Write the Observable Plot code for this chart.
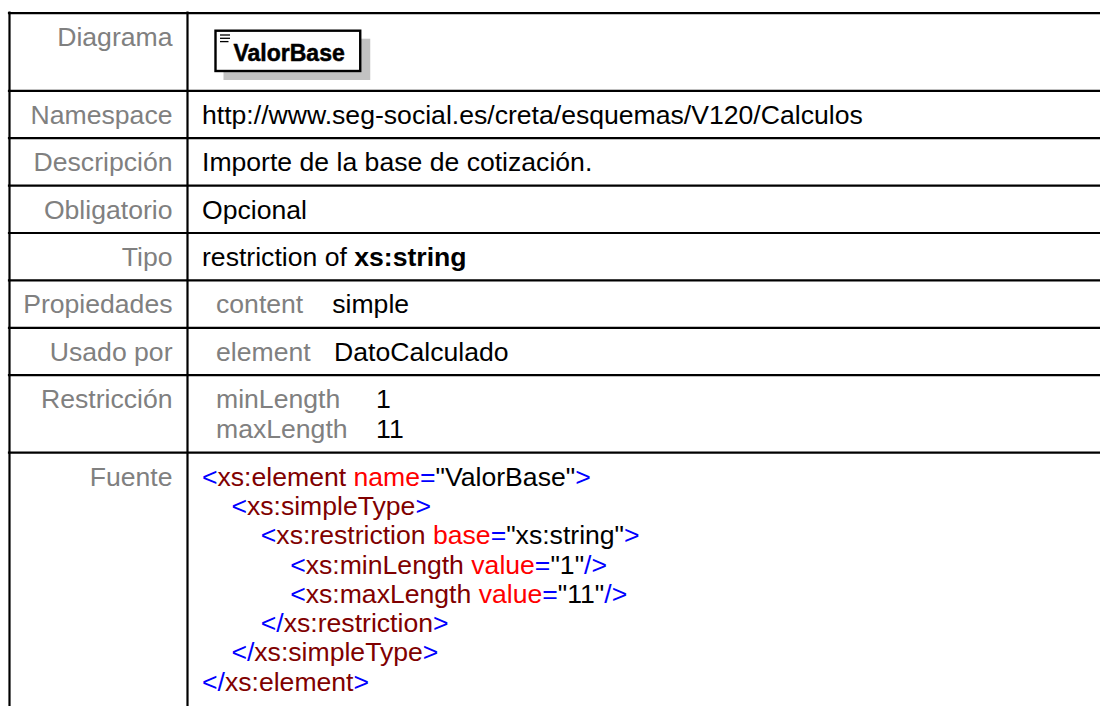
<!DOCTYPE html>
<html><head><meta charset="utf-8">
<script src="https://cdn.jsdelivr.net/npm/d3@7"></script>
<script src="https://cdn.jsdelivr.net/npm/@observablehq/plot@0.6"></script>
<style>html,body{margin:0;padding:0;background:#fff;} #chart svg{display:block}</style>
</head><body><div id="chart"></div>
<script>
// ---- content ----
const rowLabels = ["Diagrama","Namespace","Descripción","Obligatorio","Tipo","Propiedades","Usado por","Restricción","Fuente"];
const elementName = "ValorBase";
const namespaceValue = "http://www.seg-social.es/creta/esquemas/V120/Calculos";
const descripcionValue = "Importe de la base de cotización.";
const obligatorioValue = "Opcional";
const tipoPrefix = "restriction of";
const tipoBase = "xs:string";
const propiedades = [["content","simple"]];
const usadoPor = [["element","DatoCalculado"]];
const restriccion = [["minLength","1"],["maxLength","11"]];
// XML source: [text, kind] kinds: p=punctuation, e=element, a=attribute, v=value
const sourceIndent = [0,1,2,3,3,2,1,0];
const sourceTokens = [
  [["<","p"],["xs:element","e"],[" name","a"],["=","p"],["\"ValorBase\"","v"],[">","p"]],
  [["<","p"],["xs:simpleType","e"],[">","p"]],
  [["<","p"],["xs:restriction","e"],[" base","a"],["=","p"],["\"xs:string\"","v"],[">","p"]],
  [["<","p"],["xs:minLength","e"],[" value","a"],["=","p"],["\"1\"","v"],["/>","p"]],
  [["<","p"],["xs:maxLength","e"],[" value","a"],["=","p"],["\"11\"","v"],["/>","p"]],
  [["</","p"],["xs:restriction","e"],[">","p"]],
  [["</","p"],["xs:simpleType","e"],[">","p"]],
  [["</","p"],["xs:element","e"],[">","p"]]
];
const tokenColors = {p:"#0000ff", e:"#800000", a:"#ff0000", v:"#000000"};

// ---- layout / style ----
const W = 1100, H = 706, FS = 26.6;
const FONT = '"Liberation Sans", Arial, sans-serif';
const LABEL_COLOR = "#808080";
const L = {tableLeft:9, tableTop:12.7, divider:187, labelRight:172, valueX:201.5, subLabelX:215.5,
           rowH:47.4, lineStep:30, srcStep:29.3, baseOff:33, diagramH:77.6, indent:29.4, border:2.2};
const subGaps = {prop:29, uso:23.5, restr:28.5};

const ctx = document.createElement("canvas").getContext("2d");
function tw(s, weight = "normal", size = FS) { ctx.font = `${weight} ${size}px "Liberation Sans"`; return ctx.measureText(s).width; }

const lineCounts = rowLabels.map((_, i) => i === 7 ? restriccion.length : i === 8 ? sourceTokens.length : 1);
const heights = lineCounts.map((n, i) => i === 0 ? L.diagramH : L.rowH + (n - 1) * (i === 8 ? L.srcStep : L.lineStep));
const tops = [];
heights.reduce((acc, h) => { tops.push(acc); return acc + h; }, L.tableTop);
const base = i => tops[i] + L.baseOff;

// texts
const labelTexts = rowLabels.map((label, i) => ({x: L.labelRight, y: base(i), text: label}));
const normalTexts = [
  {x: L.valueX, y: base(1), text: namespaceValue, fill: "#000"},
  {x: L.valueX, y: base(2), text: descripcionValue, fill: "#000"},
  {x: L.valueX, y: base(3), text: obligatorioValue, fill: "#000"},
  {x: L.valueX, y: base(4), text: tipoPrefix, fill: "#000"}
];
const boldTexts = [{x: L.valueX + tw(tipoPrefix + " "), y: base(4), text: tipoBase}];
function addSub(pairs, row, gap) {
  const colX = L.subLabelX + d3.max(pairs, p => tw(p[0])) + gap;
  pairs.forEach((p, k) => {
    const y = base(row) + k * L.lineStep;
    normalTexts.push({x: L.subLabelX, y, text: p[0], fill: LABEL_COLOR});
    normalTexts.push({x: colX, y, text: p[1], fill: "#000"});
  });
}
addSub(propiedades, 5, subGaps.prop);
addSub(usadoPor, 6, subGaps.uso);
addSub(restriccion, 7, subGaps.restr);
sourceTokens.forEach((tokens, j) => {
  let x = L.valueX + sourceIndent[j] * L.indent;
  const y = base(8) + j * L.srcStep;
  tokens.forEach(([t, kind]) => {
    if (t.startsWith(" ")) { x += tw(" "); t = t.trimStart(); }
    normalTexts.push({x, y, text: t, fill: tokenColors[kind]});
    x += tw(t);
  });
});

// diagram box
const DFS = 23;
const boxX1 = L.divider + 28.5, textX = boxX1 + 17.5;
const diagBox = {x1: boxX1, x2: textX + tw(elementName, "bold", DFS) + 16, y1: tops[0] + 18, y2: tops[0] + 58.3};
const shadow = {x1: diagBox.x1 + 8, x2: diagBox.x2 + 10, y1: diagBox.y1 + 8, y2: diagBox.y2 + 9};
const iconLines = [0, 1, 2].map(k => ({y: diagBox.y1 + 3.8 + k * 3.3, x1: diagBox.x1 + 4.5, x2: diagBox.x1 + 14.5 - (k === 2 ? 1.5 : 0)}));

const hb = L.border / 2;
const chart = Plot.plot({
  width: W, height: H, margin: 0,
  x: {type: "linear", domain: [0, W], range: [0, W], axis: null},
  y: {type: "linear", domain: [0, H], range: [0, H], axis: null},
  color: {type: "identity"},
  style: {fontFamily: FONT, background: "#fff", color: "#000"},
  marks: [
    Plot.rect([shadow], {x1: "x1", x2: "x2", y1: "y1", y2: "y2", fill: "#c2c2c2"}),
    Plot.rect([diagBox], {x1: "x1", x2: "x2", y1: "y1", y2: "y2", fill: "#fff", stroke: "#000", strokeWidth: 2.4}),
    Plot.ruleY(iconLines, {y: "y", x1: "x1", x2: "x2", stroke: "#000", strokeWidth: 1.3}),
    Plot.text([diagBox], {x: () => textX, y: d => d.y1 + 29.5, text: () => elementName, fontWeight: "bold", fontSize: DFS, textAnchor: "start", lineAnchor: "bottom", fill: "#000", stroke: "#000", strokeWidth: 0.5}),
    Plot.ruleY(tops, {x1: L.tableLeft - hb, x2: W, stroke: "#000", strokeWidth: L.border}),
    Plot.ruleX([L.tableLeft, L.divider], {y1: L.tableTop - hb, y2: H, stroke: "#000", strokeWidth: L.border}),
    Plot.text(labelTexts, {x: "x", y: "y", text: "text", fontSize: FS, textAnchor: "end", lineAnchor: "bottom", fill: LABEL_COLOR}),
    Plot.text(normalTexts, {x: "x", y: "y", text: "text", fill: "fill", fontSize: FS, textAnchor: "start", lineAnchor: "bottom"}),
    Plot.text(boldTexts, {x: "x", y: "y", text: "text", fontSize: FS, fontWeight: "bold", textAnchor: "start", lineAnchor: "bottom", fill: "#000"})
  ]
});
document.getElementById("chart").appendChild(chart);
</script>
</body></html>
